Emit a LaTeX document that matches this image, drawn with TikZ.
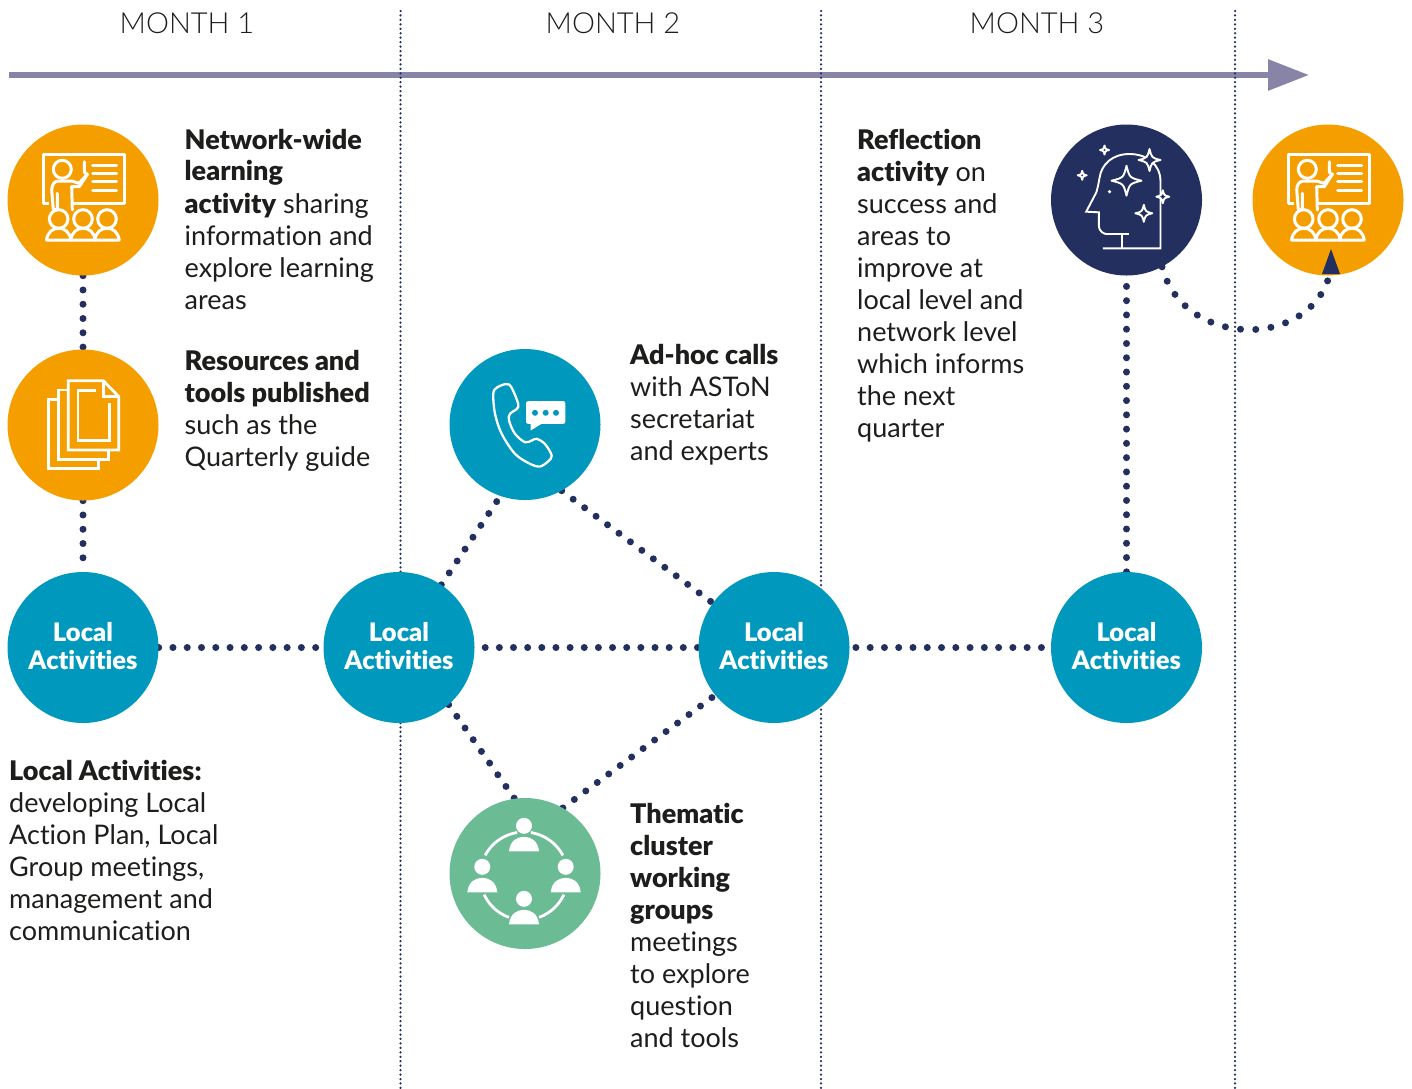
\documentclass[tikz,border=0pt]{standalone}
\usepackage{fontspec}
\setmainfont{Lato}[BoldFont={Lato Black},Ligatures=NoCommon]
\newfontfamily\lightfont{Lato Light}
\usetikzlibrary{arrows.meta,backgrounds}
\definecolor{cOrange}{HTML}{F59E00}
\definecolor{cBlue}{HTML}{0098BD}
\definecolor{cGreen}{HTML}{6BBB94}
\definecolor{cNavy}{HTML}{232F5F}
\definecolor{cArrow}{HTML}{8884A8}
\definecolor{cText}{HTML}{1D1D1B}
\newcommand{\fourstar}[3]{%
  \draw[cNavy!100,fill=cNavy,draw=white,line width=1.9pt,line join=round]
    (#1,#2-#3) .. controls (#1+.2*#3,#2-.2*#3) .. (#1+#3,#2)
    .. controls (#1+.2*#3,#2+.2*#3) .. (#1,#2+#3)
    .. controls (#1-.2*#3,#2+.2*#3) .. (#1-#3,#2)
    .. controls (#1-.2*#3,#2-.2*#3) .. cycle;}
\newcommand{\person}[2]{%
  \fill[white] (#1,#2) circle (8);
  \fill[white] (#1-15,#2+25.5) .. controls (#1-14,#2+15) and (#1-7,#2+11) .. (#1,#2+11)
     .. controls (#1+7,#2+11) and (#1+14,#2+15) .. (#1+15,#2+25.5) -- cycle;}
\newcommand{\lalabel}{Local\\Activities\rule[-3pt]{0pt}{3pt}}
\tikzset{
  x=1pt,y=-1pt,
  circ/.style={circle,minimum size=151pt,inner sep=0pt,text=white,align=center,
     font=\fontsize{25.5}{28}\selectfont\bfseries},
  dots/.style={cNavy,line width=7pt,line cap=round,dash pattern=on 0pt off 14.27pt},
  vline/.style={cNavy,line width=2.5pt,line cap=round,dash pattern=on 0pt off 4.45pt},
  body/.style={anchor=north west,inner sep=0pt,align=left,text=cText,
     font=\fontsize{27}{32}\selectfont},
  head/.style={inner sep=0pt,text=cText,font=\fontsize{29}{32}\selectfont\lightfont},
  iconline/.style={white,line width=3pt,line cap=round,line join=round},
  teach/.pic={
    \draw[iconline]
      (-29,3.3) -- (-39.7,3.3) -- (-39.7,-45.7) -- (41,-45.7) -- (41,3.3) -- (-10.7,3.3);
    \fill[cOrange] (-34,-1) rectangle (-10,12);
    \draw[iconline] (-20.7,-30.7) circle (9);
    \draw[iconline]
      (-25.7,-6.7) -- (-25.7,9.5) -- (-29.7,9.5) -- (-31.3,-10)
      .. controls (-31.3,-16) and (-28,-19) .. (-24.7,-19) -- (-11.3,-19) -- (-4,-16.7)
      -- (4.3,-25.7) -- (1.3,-27.7) -- (1.3,-38.3);
    \draw[iconline]
      (4.3,-25.7) -- (-3.7,-13.3) -- (-11.3,-13.3) -- (-10.7,10);
    \foreach \yy in {-34.3,-26.3,-18.3,-9.7}
      \draw[iconline] (9.7,\yy) -- (33.7,\yy);
    \foreach \xx in {-24.3,0,24} {
      \draw[iconline] (\xx,19) circle (9.3);
      \draw[iconline]
        (\xx-12.2,40) .. controls (\xx-11,32) and (\xx-6,28.3) .. (\xx,28.3)
        .. controls (\xx+6,28.3) and (\xx+11,32) .. (\xx+12.2,40) -- cycle;
    }
  },
  pages/.pic={
    \draw[white,line width=2.8pt,line join=miter]
      (15.7,34.3) -- (15.7,43.7) -- (-34.7,43.7) -- (-34.7,-25.7) -- (-24.7,-25.7);
    \draw[white,line width=2.8pt,line join=miter]
      (25.7,24.5) -- (25.7,34.3) -- (-24.7,34.3) -- (-24.7,-35) -- (-14.7,-35);
    \draw[white,line width=2.8pt,line join=miter]
      (35.7,-28.5) -- (35.7,25) -- (-14.7,25) -- (-14.7,-44.3) -- (20.3,-44.3) -- cycle;
    \draw[white,line width=2.8pt,line join=miter]
      (20.3,-44.3) -- (20.3,-28.5) -- (35.7,-28.5);
    \draw[white,line width=2.8pt,line join=miter]
      (13,-34.3) -- (-5,-34.3) -- (-5,15.7) -- (26.3,15.7) -- (26.3,-21.7);
  },
  phone/.pic={
    \draw[white,line width=2.3pt,line join=round]
      plot[smooth cycle,tension=.55] coordinates {
       (-31.7,-30.7) (-28,-37) (-18.5,-40.5) (-13.5,-37) (-6.7,-20.5) (-8.3,-15.5)
       (-15,-10.7) (-16,-4) (-10,9.3) (0,17.7) (6.7,16) (11.7,14.3) (20,19.5) (26.7,31)
       (23.3,36.7) (15,42) (5,39.3) (-10,29.3) (-23.3,9.3) (-30,-10.7)};
    \fill[white,rounded corners=2pt] (1,-23.3) rectangle (40.3,-0.7);
    \fill[white] (5.7,-2) -- (5.7,6) -- (17,-1) -- cycle;
    \foreach \xx in {10,20.7,31} \fill[cBlue] (\xx,-11.7) circle (3);
  },
  group/.pic={
    \person{-1}{-47.7}\person{-42.7}{-6.7}\person{40.7}{-6.7}\person{-1}{25.3}
    \foreach \aa/\bb in {208/261,279/332,155/110,70/25}
      \draw[white,line width=2.8pt]
        plot[smooth,domain=\aa:\bb,samples=14] ({-1+44*cos(\x)},{2.5+44*sin(\x)});
  },
  mind/.pic={
    \draw[white,line width=1.9pt,line join=miter,line cap=butt]
      (-23.7,48.3) -- (34,48.3) -- (34,-18.3)
      .. controls (34,-36) and (20,-46) .. (3,-46)
      .. controls (-14,-46) and (-25,-36) .. (-27,-22)
      .. controls (-28,-16) and (-29,-12) .. (-30,-8) -- (-40.3,11.7) -- (-27.7,12.3) -- (-27.7,25)
      .. controls (-27.7,32) and (-22,34) .. (-20,34) -- (2.3,34);
    \draw[white,line width=1.9pt] (-4.3,34) -- (-4.3,48.3);
    \fourstar{0}{-19.3}{15}
    \fourstar{23}{-40}{11}
    \fourstar{17.3}{13.3}{8.5}
    \fourstar{36.3}{-3.3}{6.5}
    \fourstar{-22}{-50}{4.5}
    \fourstar{-44.3}{-24.7}{4.5}
    \fill[white] (-17,-8.3) circle (1.8);
  }
}
\begin{document}
\begin{tikzpicture}
\useasboundingbox (0,0) rectangle (1412,1088);
% nodes
\node[circ,fill=cOrange] (learn) at (83,200) {};
\node[circ,fill=cOrange] (res) at (83,425) {};
\node[circ,fill=cBlue] (la1) at (83,647.5) {\lalabel};
\node[circ,fill=cBlue] (la2) at (399,647.5) {\lalabel};
\node[circ,fill=cBlue] (call) at (525,424.5) {};
\node[circ,fill=cGreen] (theme) at (525,873.5) {};
\node[circ,fill=cBlue] (la3) at (774,647.5) {\lalabel};
\node[circ,fill=cBlue] (la4) at (1126.5,647.5) {\lalabel};
\node[circ,fill=cNavy] (reflect) at (1126.5,200) {};
\node[circ,fill=cOrange] (next) at (1328,200) {};
% icons
\pic at (learn) {teach};
\pic at (next) {teach};
\pic at (res) {pages};
\pic at (call) {phone};
\pic at (theme) {group};
\pic at (reflect) {mind};
% timeline coordinates
\coordinate (tstart) at (9,75);
\coordinate (tend) at (1309,75);
\coordinate (v1a) at (400.5,11); \coordinate (v1b) at (400.5,1088);
\coordinate (v2a) at (821,11); \coordinate (v2b) at (821,1088);
\coordinate (v3a) at (1235,11); \coordinate (v3b) at (1235,1088);
\begin{pgfonlayer}{background}
  \draw[cArrow,line width=6pt,-{Triangle[length=41pt,width=30pt]}] (tstart) -- (tend);
  \draw[vline] (v1a) -- (v1b);
  \draw[vline] (v2a) -- (v2b);
  \draw[vline] (v3a) -- (v3b);
  \draw[dots] (learn) -- (res);
  \draw[dots] (res) -- (la1);
  \draw[dots] (la1) -- (la2);
  \draw[dots,dash pattern=on 0pt off 14.15pt,dash phase=3.65pt] (la2) -- (la3);
  \draw[dots,dash phase=8.07pt] (la3) -- (la4);
  \draw[dots] (la4) -- (reflect);
  \draw[dots] (la2.56) -- (call.251);
  \draw[dots] (call.-61) -- (la3.144);
  \draw[dots] (la2.-49) -- (theme.98);
  \draw[dots] (theme.60) -- (la3.219);
\end{pgfonlayer}
\draw[dots,dash pattern=on 0pt off 15.3pt] (reflect.-62) .. controls (1183,348) and (1308,350) .. (next.-89);
\fill[cNavy] (1322,274) -- (1331,249) -- (1340,274) -- cycle;
% headers
\node[head] (m1) at (187,23) {MONTH 1};
\node[head] (m2) at (613,23) {MONTH 2};
\node[head] (m3) at (1037,23) {MONTH 3};
% texts
\node[body] (t1) at (184.5,128.5) {\textbf{Network-wide}\\\textbf{learning}\\\textbf{activity} sharing\\information and\\explore learning\\areas};
\node[body] (t2) at (184.5,350.5) {\textbf{Resources and}\\\textbf{tools published}\\such as the\\Quarterly guide};
\node[body] (t3) at (630,344.5) {\textbf{Ad-hoc calls}\\with ASToN\\secretariat\\and experts};
\node[body] (t4) at (857,128.5) {\textbf{Reflection}\\\textbf{activity} on\\success and\\areas to\\improve at\\local level and\\network level\\which informs\\the next\\quarter};
\node[body] (t5) at (9,759.5) {\textbf{Local Activities:}\\developing Local\\Action Plan, Local\\Group meetings,\\management and\\communication};
\node[body] (t6) at (630,802.5) {\textbf{Thematic}\\\textbf{cluster}\\\textbf{working}\\\textbf{groups}\\meetings\\to explore\\question\\and tools};
\end{tikzpicture}
\end{document}
